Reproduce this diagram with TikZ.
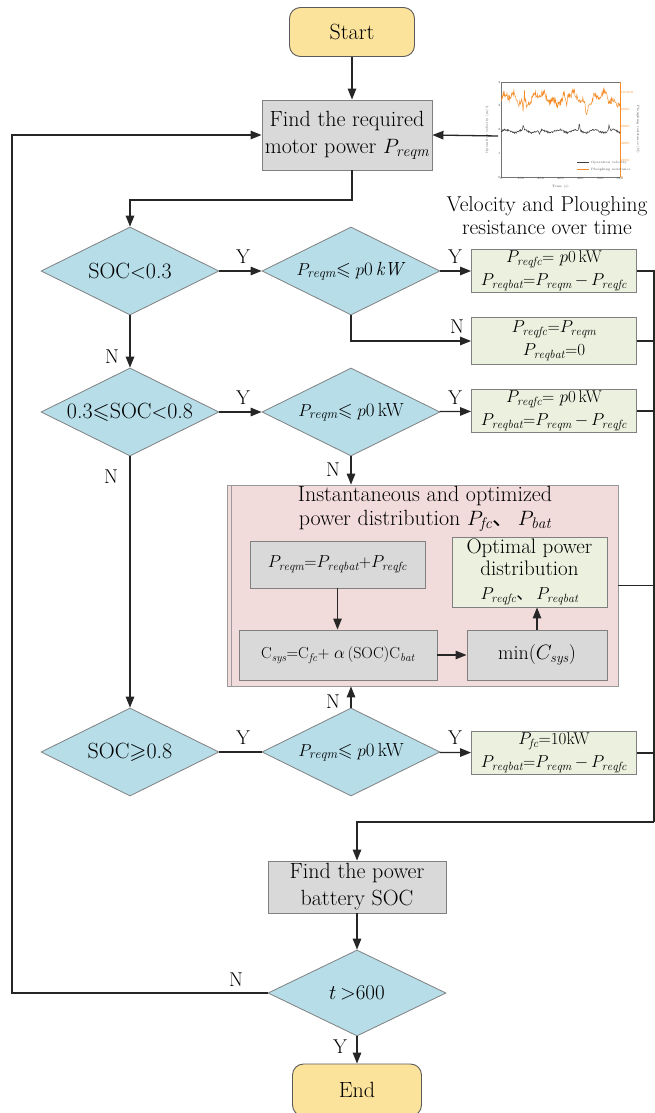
\documentclass[tikz,border=0pt]{standalone}
\usepackage{amsmath, amssymb}
\usepackage{fontspec}
\newfontfamily\cjk{Noto Sans CJK SC}
\usepackage{tikz}
\usetikzlibrary{calc, shapes.geometric, arrows.meta}
\usepackage{xcolor}

\definecolor{startyellow}{RGB}{252,227,156}
\definecolor{decblue}{RGB}{182,221,232}
\definecolor{boxgreen}{RGB}{235,241,222}
\definecolor{boxgray}{RGB}{217,217,217}
\definecolor{boxpink}{RGB}{242,220,219}
\definecolor{edgegray}{RGB}{128,128,128}
\definecolor{linedark}{RGB}{38,38,38}
\definecolor{plotorange}{RGB}{245,140,40}

% power with an italic subscript
\newcommand{\pw}[1]{\ensuremath{P_{\mathit{#1}}}}

\tikzset{
  terminal/.style={draw=edgegray!70!black, fill=startyellow, rounded corners=11pt, line width=0.9pt,
    minimum width=125pt, minimum height=49pt, font=\fontsize{22}{26}\selectfont},
  decision/.style={diamond, aspect=2, draw=edgegray, fill=decblue, line width=0.8pt,
    inner xsep=-20pt, inner ysep=0pt,
    minimum width=178pt, minimum height=88pt, font=\fontsize{19}{23}\selectfont},
  process/.style={draw=edgegray, fill=boxgray, line width=0.9pt, align=center, inner sep=0pt,
    font=\fontsize{22}{27}\selectfont},
  result/.style={draw=edgegray, fill=boxgreen, line width=0.9pt, align=center, inner sep=0pt,
    minimum width=165pt, font=\fontsize{17}{23}\selectfont},
  flow/.style={line width=1.3pt, draw=linedark, -{Triangle[length=11pt,width=8.5pt]}},
  link/.style={line width=1.3pt, draw=linedark},
  yn/.style={font=\fontsize{20}{20}\selectfont, inner sep=0pt},
  tiny/.style={font=\fontsize{3.2}{3.6}\selectfont, inner sep=0.6pt}
}

\begin{document}
\begin{tikzpicture}[x=1pt, y=-1pt]
  \useasboundingbox (0,0) rectangle (655,1113);
  \fill[white] (0,0) rectangle (655,1113);

  % Nodes
  \node[terminal] (start) at (352,32) {Start};
  \node[process, minimum width=170pt, minimum height=70pt] (find) at (347,135) {Find the required\\motor power \pw{reqm}};

  \node[decision, font=\fontsize{22}{26}\selectfont] (d1) at (130,271) {SOC$<$0.3};
  \node[decision] (d2) at (351,271) {\pw{reqm}$\leqslant p$0\,\textit{kW}};
  \node[result, minimum height=43pt] (box1) at (554,271) {\pw{reqfc}= $p$0\,kW\\\pw{reqbat}=\pw{reqm}\,$-$\,\pw{reqfc}};
  \node[result, minimum height=47pt] (box2) at (554,341) {\pw{reqfc}=\pw{reqm}\\\pw{reqbat}=0};

  \node[decision, font=\fontsize{22}{26}\selectfont] (d3) at (130,412) {0.3$\leqslant$SOC$<$0.8};
  \node[decision] (d4) at (351,412) {\pw{reqm}$\leqslant p$0\,kW};
  \node[result, minimum height=43pt] (box3) at (554,411) {\pw{reqfc}= $p$0\,kW\\\pw{reqbat}=\pw{reqm}\,$-$\,\pw{reqfc}};

  % optimisation block
  \node[draw=edgegray!80, fill=boxpink, line width=0.8pt, minimum width=391pt, minimum height=201pt, inner sep=0pt] (opt) at (422.5,585.5) {};
  \draw[edgegray!80, line width=0.8pt] ($(opt.north west)+(5pt,0)$) -- ($(opt.south west)+(5pt,0)$);
  \node[align=center, font=\fontsize{22}{24}\selectfont] (opttitle) at (425,509) {Instantaneous and optimized\\power distribution \pw{fc}{\cjk 、}\,\pw{bat}};
  \node[process, minimum width=175pt, minimum height=47pt, font=\fontsize{17}{22}\selectfont] (pa) at (337.5,564.5) {\pw{reqm}=\pw{reqbat}+\pw{reqfc}};
  \node[result, minimum width=155pt, minimum height=70pt, font=\fontsize{21}{22}\selectfont] (pb) at (529.5,572) {Optimal power\\distribution\\[2pt]{\fontsize{17}{20}\selectfont\pw{reqfc}{\cjk 、}\,\pw{reqbat}}};
  \node[process, minimum width=198pt, minimum height=50pt, font=\fontsize{16}{22}\selectfont] (pc) at (338,655) {C$_{\mathit{sys}}$=C$_{\mathit{fc}}$+ $\alpha$\,(SOC)C$_{\mathit{bat}}$};
  \node[process, minimum width=140pt, minimum height=50pt, font=\fontsize{20}{22}\selectfont] (pd) at (537,655) {min($C_{\mathit{sys}}$)};

  \node[decision, font=\fontsize{22}{26}\selectfont] (d5) at (130,752) {SOC$\geqslant$0.8};
  \node[decision] (d6) at (351,752) {\pw{reqm}$\leqslant p$0\,kW};
  \node[result, minimum height=43pt] (box5) at (554,753) {\pw{fc}=10kW\\\pw{reqbat}=\pw{reqm}\,$-$\,\pw{reqfc}};

  \node[process, minimum width=178pt, minimum height=52pt] (socbox) at (357,887) {Find the power\\battery SOC};
  \node[decision, minimum height=86pt, font=\fontsize{21}{25}\selectfont] (d7) at (357,993) {$t$\,$>$600};
  \node[terminal, minimum width=129pt, minimum height=52pt] (end) at (357,1090) {End};

  % velocity and ploughing resistance chart
  \begin{scope}[shift={(501,177)}, x=0.1983pt, y=23.75pt]
    \draw[black!55, line width=0.3pt] (0,0) -- (0,4) -- (600,4);
    \draw[black!55, line width=0.3pt] (0,0) -- (600,0);
    \draw[plotorange, line width=0.3pt] (600,0) -- (600,4);
    \foreach \t in {0,100,...,600}
      \node[tiny, below, black!70] (tx\t) at (\t,0) {\t};
    \foreach \v in {0,...,4}
      \node[tiny, left, black!70] (ty\v) at (0,\v) {\v};
    \node[tiny, black!70] (tlabel) at (300,-0.42) {Time (s)};
    \node[tiny, rotate=90, black!70] (vlabel) at (-70,2) {Operation velocity (m/s)};
    \begin{scope}[y=8.4pt]
      \foreach \f/\fl in {0/0,2/2000,4/4000,6/6000,8/8000,10/{10,000}}
        \node[tiny, right, plotorange] (tf\f) at (600,\f) {\fl};
      \pgfmathsetseed{17}
      \draw[plotorange, line width=0.5pt] plot[domain=0:600, samples=260]
        (\x, {9.3 + 0.55*sin(\x*2.3) + 0.35*sin(\x*7.1) + 0.4*rand
              - 1.6*max(0,1-abs(\x-430)/10) - 1.2*max(0,1-abs(\x-112)/5)
              + 1.0*max(0,1-abs(\x-118)/4) - 1.0*max(0,1-abs(\x-330)/5)});
    \end{scope}
    \node[tiny, rotate=-90, black!70] (flabel) at (690,2) {Ploughing resistance (N)};
    \pgfmathsetseed{5}
    \draw[black!75, line width=0.5pt] plot[domain=0:600, samples=260]
      (\x, {1.93 + 0.04*rand + 0.06*sin(\x*4)
            + 0.35*max(0,1-abs(\x-395)/5) + 0.25*max(0,1-abs(\x-545)/5)
            + 0.25*max(0,1-abs(\x-112)/5) - 0.2*max(0,1-abs(\x-195)/8)});
    \draw[black!75, line width=0.45pt] (385,0.62) -- (445,0.62);
    \draw[plotorange, line width=0.45pt] (385,0.32) -- (445,0.32);
    \node[tiny, right, black!70] (lvel) at (450,0.62) {Operation velocity};
    \node[tiny, right, black!70] (lres) at (450,0.32) {Ploughing resistance};
  \end{scope}
  \coordinate (chartin) at (498,136);
  \node[align=center, font=\fontsize{21.5}{23}\selectfont] (caption) at (547,216) {Velocity and Ploughing\\resistance over time};

  % Y / N labels
  \node[yn] (y1) at (243,257) {Y};
  \node[yn] (y2) at (455,257) {Y};
  \node[yn] (n2) at (457,327) {N};
  \node[yn] (n1) at (112,357) {N};
  \node[yn] (y3) at (243,398) {Y};
  \node[yn] (y4) at (455,398) {Y};
  \node[yn] (n4) at (333,470) {N};
  \node[yn] (n3) at (111,477) {N};
  \node[yn] (n6) at (333,702) {N};
  \node[yn] (y5) at (243,738) {Y};
  \node[yn] (y6) at (455,738) {Y};
  \node[yn] (n7) at (236,980) {N};
  \node[yn] (y7) at (340,1047) {Y};

  % bend points
  \coordinate (fb) at (352,200);
  \coordinate (nb2) at (351,341);
  \coordinate (railtop) at (654,271);
  \coordinate (railbot) at (654,822);
  \coordinate (socin) at (357,822);
  \coordinate (loopbot) at (12,993);
  \coordinate (looptop) at (12,135);

  % Connectors
  \draw[flow] (start) -- (start |- find.north);
  \draw[flow] (chartin) -- (find.east);
  \draw[flow] (find.south -| fb) -- (fb) -| (d1.north);

  \draw[flow] (d1) -- (d2);
  \draw[flow] (d2) -- (box1);
  \draw[flow] (d2.south) -- (nb2) -- (box2.west);
  \draw[flow] (d1) -- (d3);
  \draw[flow] (d3) -- (d4);
  \draw[flow] (d4) -- (box3);
  \draw[flow] (d4.south) -- (d4.south |- opt.north);
  \draw[flow] (d3) -- (d5);
  \draw[link] (d5) -- (d6);
  \draw[flow] (d6.north) -- (d6.north |- opt.south);
  \draw[flow] (d6) -- (box5);

  \draw[flow] (pa.south) -- (pa.south |- pc.north);
  \draw[flow] (pc) -- (pd);
  \draw[flow] (pd.north) -- (pd.north |- pb.south);

  \draw[link] (box1.east) -- (railtop) -- (railbot);
  \draw[link] (box2.east) -- (box2.east -| railtop);
  \draw[link] (box3.east) -- (box3.east -| railtop);
  \draw[link] (opt.east) -- (opt.east -| railtop);
  \draw[link] (box5.east) -- (box5.east -| railtop);
  \draw[flow] (railbot) -- (socin) -- (socbox.north);

  \draw[flow] (socbox) -- (d7);
  \draw[flow] (d7) -- (end);
  \draw[flow] (d7.west) -- (loopbot) -- (looptop) -- (find.west);
\end{tikzpicture}
\end{document}
